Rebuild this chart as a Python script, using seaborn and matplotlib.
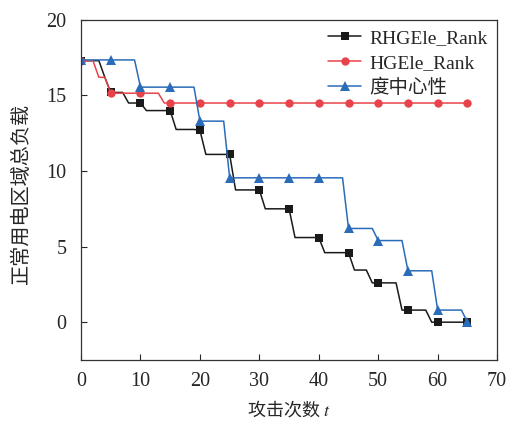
import numpy as np
import pandas as pd
import matplotlib
matplotlib.use("Agg")
import matplotlib.pyplot as plt
import seaborn as sns

attacks = list(range(0, 66))

rhgele = ([17.3, 17.3, 17.3, 17.3, 16.2, 15.2, 15.2, 15.2, 14.5, 14.5, 14.5,
           14.0, 14.0, 14.0, 14.0, 14.0, 12.75, 12.75, 12.75, 12.75, 12.7,
           11.1, 11.1, 11.1, 11.1, 11.1, 8.75, 8.75, 8.75, 8.75, 8.75,
           7.5, 7.5, 7.5, 7.5, 7.5, 5.6, 5.6, 5.6, 5.6, 5.6,
           4.6, 4.6, 4.6, 4.6, 4.6, 3.45, 3.45, 3.45, 2.6, 2.6,
           2.6, 2.6, 2.6, 0.8, 0.8, 0.8, 0.8, 0.8, 0.0, 0.0,
           0.0, 0.0, 0.0, 0.0, 0.0])

hgele = ([17.3, 17.3, 17.3, 16.2, 16.2, 15.15, 15.15, 15.15, 15.15, 15.15, 15.15,
          15.15, 15.15, 15.15, 14.5] + [14.5] * 51)

degree = ([17.35] * 10 + [15.55] * 10 + [13.3] * 5 + [9.55] * 20 +
          [6.2] * 5 + [5.4] * 5 + [3.4] * 5 + [0.8] * 5 + [0.0])

names = ["RHGEle_Rank", "HGEle_Rank", "度中心性"]
colors = ["#1a1a1a", "#e8434b", "#2b6cb8"]
markers = ["s", "o", "^"]
msizes = [5.3, 6, 6.6]

x_ticks = [0, 10, 20, 30, 40, 50, 60, 70]
y_ticks = [0, 5, 10, 15, 20]

sns.set_style("ticks")
plt.rcParams["font.family"] = ["Liberation Serif", "Noto Sans CJK SC"]
plt.rcParams["mathtext.fontset"] = "stix"

fig = plt.figure(figsize=(5.13, 4.23), dpi=100)
ax = fig.add_axes([0.158, 0.149, 0.811, 0.804])

df = pd.DataFrame({"t": attacks, names[0]: rhgele, names[1]: hgele, names[2]: degree})
for name, c, m, ms in zip(names, colors, markers, msizes):
    sns.lineplot(data=df, x="t", y=name, ax=ax, color=c, marker=m, markersize=ms,
                 markevery=5, markeredgewidth=0, linewidth=1.1, label=name)

ax.set_xlim(0, 70)
ax.set_ylim(-2.5, 20)
ax.set_xticks(x_ticks)
ax.set_yticks(y_ticks)
ax.tick_params(direction="in", labelsize=14.5, length=4, width=0.8, top=False, right=False)
ax.tick_params(axis="x", pad=9)
ax.tick_params(axis="y", pad=10.5)
for s in ax.spines.values():
    s.set_linewidth(0.9)
    s.set_color("#333333")

cjk = ["Noto Sans CJK SC", "DejaVu Sans"]
ax.set_xlabel("攻击次数 $t$", fontsize=13, family=cjk)
ax.set_ylabel("正常用电区域总负载", fontsize=14.5, family=cjk)
ax.xaxis.set_label_coords(0.5, -0.115)
ax.yaxis.set_label_coords(-0.118, 0.49)

leg = ax.legend(loc="upper right", frameon=False, handlelength=1.7,
                borderaxespad=0.1, labelspacing=0.36, handletextpad=0.4,
                prop={"family": ["Liberation Serif", "Noto Sans CJK SC"], "size": 14})

fig.savefig("out.png", dpi=100)
